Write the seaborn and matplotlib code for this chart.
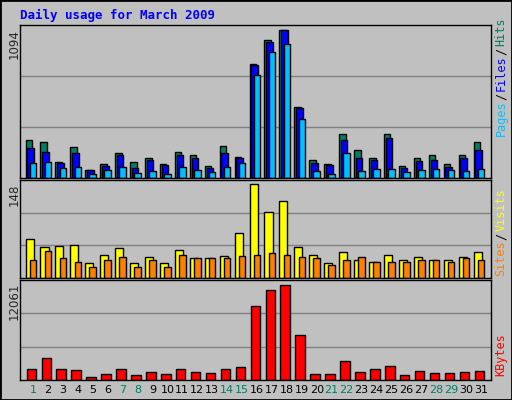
import numpy as np
import matplotlib
matplotlib.use("Agg")
import matplotlib.pyplot as plt
import seaborn as sns

days = list(range(1, 32))
hits = [277, 262, 121, 225, 62, 106, 181, 121, 144, 106, 188, 173, 92, 233, 158,
        842, 1020, 1094, 522, 136, 106, 322, 210, 151, 322, 92, 144, 166, 106, 173, 262]
files = [218, 188, 114, 181, 62, 92, 173, 77, 136, 99, 173, 144, 77, 181, 151,
         834, 1005, 1094, 515, 114, 99, 277, 151, 136, 292, 77, 129, 136, 84, 151, 210]
pages = [111, 121, 77, 84, 32, 62, 84, 40, 54, 32, 84, 62, 47, 84, 111,
         760, 931, 990, 433, 54, 32, 181, 54, 69, 69, 47, 62, 69, 62, 54, 69]
visits = [61, 49, 50, 52, 23, 36, 47, 23, 33, 23, 45, 31, 31, 34, 71,
          148, 105, 122, 49, 36, 23, 41, 29, 26, 36, 28, 33, 29, 29, 33, 41]
sites = [29, 42, 31, 26, 17, 29, 33, 18, 28, 17, 36, 31, 31, 31, 34,
         36, 39, 37, 33, 31, 21, 29, 33, 25, 25, 25, 29, 28, 26, 31, 29]
kbytes = [1364, 2816, 1364, 1232, 440, 704, 1364, 572, 968, 704, 1364, 968, 836, 1364, 1628,
          9284, 11396, 12061, 5720, 704, 704, 2420, 968, 1364, 1760, 572, 1100, 836, 836, 968, 1100]
weekend = [1, 7, 8, 14, 15, 21, 22, 28, 29]

sns.set_style("white")
plt.rcParams['font.family'] = ['DejaVu Sans Mono', 'DejaVu Sans']
BG = "#C0C0C0"
W, H = 512, 400
fig = plt.figure(figsize=(5.12, 4.0), dpi=100, facecolor=BG)
fig.patches.append(plt.Rectangle((0, 0), 1, 1, transform=fig.transFigure,
                                 fill=False, ec="black", lw=2))

def px_axes(x0, y0, x1, y1):
    return fig.add_axes([x0 / W, 1 - y1 / H, (x1 - x0) / W, (y1 - y0) / H])

x = np.array(days, dtype=float)

def setup(ax, vmax, frac):
    ax.set_facecolor(BG)
    ax.set_xlim(0.13, 31.67)
    top = vmax / frac
    ax.set_ylim(0, top)
    for g in (top / 3, 2 * top / 3):
        ax.axhline(g, color="#808080", lw=1, zorder=0)
    ax.set_xticks([])
    ax.set_yticks([])
    for s in ax.spines.values():
        s.set_color("black")
        s.set_linewidth(1)

kw = dict(align="edge", edgecolor="black", linewidth=1)

# top panel
ax1 = px_axes(20, 25, 491, 178)
setup(ax1, max(hits), 0.97)
ax1.bar(x - 0.50, hits, 0.44, color="#008060", **kw)
ax1.bar(x - 0.38, files, 0.44, color="#0000FF", **kw)
ax1.bar(x - 0.22, pages, 0.44, color="#00C0FF", **kw)

# middle panel
ax2 = px_axes(20, 180, 491, 278)
setup(ax2, max(visits), 0.955)
ax2.bar(x - 0.50, visits, 0.54, color="#FFFF00", **kw)
ax2.bar(x - 0.22, sites, 0.44, color="#FF8000", **kw)

# bottom panel
ax3 = px_axes(20, 280, 491, 380)
setup(ax3, max(kbytes), 0.955)
ax3.bar(x - 0.43, kbytes, 0.64, color="#FF0000", **kw)

for d in days:
    ax3.text(d, -0.1, str(d), transform=ax3.get_xaxis_transform(),
             ha="center", va="center", fontsize=8, family="DejaVu Sans",
             color="#008060" if d in weekend else "black")

fig.text(20 / W, 1 - 15 / H, "Daily usage for March 2009", color="#0000FF",
         fontsize=9, fontweight="bold", va="center")

for ytop, label in ((29, "1094"), (184, "148"), (283, "12061")):
    fig.text(14 / W, 1 - ytop / H, label, rotation=90, ha="center", va="top",
             fontsize=8.5, family="DejaVu Sans")

def right_label(ybottom, parts):
    y = ybottom
    for txt, col in parts:
        fig.text(501 / W, 1 - y / H, txt, rotation=90, ha="center",
                 va="bottom", fontsize=8.5, color=col)
        y -= len(txt) * 6.8 + 2

right_label(136, [("Pages", "#00C0FF"), ("/", "black"), ("Files", "#0000FF"),
                  ("/", "black"), ("Hits", "#008060")])
right_label(276, [("Sites", "#FF8000"), ("/", "black"), ("Visits", "#FFFF00")])
right_label(376, [("KBytes", "#FF0000")])

fig.savefig("out.png", dpi=100, facecolor=BG)
